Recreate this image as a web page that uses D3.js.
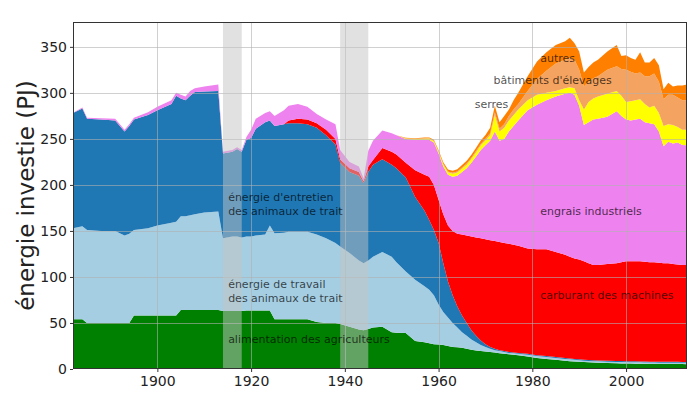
<!DOCTYPE html>
<html>
<head>
<meta charset="utf-8">
<script src="https://cdn.jsdelivr.net/npm/d3@7"></script>
<style>
  body { margin: 0; background: #fff; }
  text { font-family: "DejaVu Sans", sans-serif; }
</style>
</head>
<body>
<div id="chart"></div>
<script>
// years shared by every series
const years = [1882,1884,1885,1888,1891,1893,1894,1895,1898,1900,1903,1904,1905,1906,1907,1908,1910,1913,
  1914,1916,1917,1918,1919,1920,1921,1923,1924,1925,1927,1928,1930,1932,1934,1936,1938,
  1939,1941,1943,1944,1945,1946,1948,1950,1951,1953,1955,1957,1958,1959,1960,1961,1962,1963,1964,1965,
  1966,1967,1968,1969,1970,1971,1972,1973,1974,1975,1976,1977,1979,1981,1983,1985,1987,1988,1989,1990,
  1991,1992,1993,1994,1996,1998,1999,2000,2001,2002,2003,2004,2005,2006,2007,2008,2009,2010,2011,2012,2013];

const alimentation = [54,54,50,50,50,50,50,58,58,58,58,58,64,64,64,64,64,64,
  63,63,63,63,63.5,63.5,63.5,63.5,63.5,54,54,54,54,54,51,50,50,
  49,46,43,42,43.5,45,46,40,39.5,39,30.5,29,28,27,26.5,26,25,24,23.5,23,
  22,21,20,19.5,19,18.5,18,17,16.5,16,15.5,15,13.5,12,11,10,9,8.5,8.2,8,
  7.5,7.2,7,6.8,6.5,6.2,6.1,6,5.9,5.8,5.7,5.6,5.5,5.5,5.4,5.4,5.3,5.3,5.3,5.3,5.2];

const travail = [99,101,101,100,100,95,97,93,95,98,101,102,102,102,103,104,106,107,
  79,81,81,80,80.5,80.5,81.5,82.5,92.5,93.5,94,95,95,95,95,92,87,
  84,80,75,73,74.5,77,81,82,76.5,67,66.5,61,58,53,43.5,36,31,26,21.5,17,
  14,11,9,6.5,5,3.5,2.5,2.5,2,1.5,1.5,1.5,2,2,2,2,2,2,1.8,1.5,
  1.5,1.6,1.5,1.5,1.5,1.5,1.5,1.5,1.5,1.5,1.5,1.5,1.5,1.5,1.5,1.5,1.5,1.5,1.5,1.5,1.5];

const entretien = [125,128,121,121,120,113,117,120,123,125,129,137,128,126,130,133,131.5,131,
  92,92,95,93,105,107,116,122,114,116.5,118,118,118,117,116,112,107,
  91,88,92,87,96,100,101,100,102,102,90,82,76,71,67,53,39,30,23,18,
  14,10,7,5,3,2,1.5,1,1,1,1,1,1,1,1,1,1,1,1,1,
  1,1,1,1,1,1,1,1,1,1,1,1,1,1,1,1,1,1,1,0.9,0.9];

const carburant = [0,0,0,0,0,0,0,0,0,0,0,0,0,0,0,0,0,0,
  0,0,0,0,0,0,0,0,0,0,0,3,5,5,5,6,6,
  4,4,4,2,6,5,12,14,15,16,29,39,47,49,47,53,61,70,79,88,
  95,102,107,111,114,116,117,117.5,117.5,117.5,117,116.5,114.5,115,116,114,112,110.5,109,108.5,
  107,105.2,103.5,103.7,105,106.3,107.4,108.5,108.6,108.7,108.8,108.4,108,108,107.6,107.1,107.2,106.2,105.7,105.3,105.4];

const engrais = [0.5,1,1,1.5,2,2,2,2,3,4,4,3,4,4,5,4,5.5,7,
  2,2,2,2,3,9,11,10,10,11,15,16,16,14,10,11,16,
  10,7,6,3,17,21,19,20,21,26,33,38,40,46,50,52,55,59,63,68,
  73,80,88,96,102,108,119,110,113,122,129,136,150,157,162,169,175,178,178,167,
  148,153,158,159,160,165,159,154,153,154,155,151.5,151,150,142.5,127,132,131,132.5,130.5,130];

const serres = [0,0,0,0,0,0,0,0,0,0,0,0,0,0,0,0,0,0,
  0,0,0,0,0,0,0,0,0,0,0,0,0,0,0,0,0,
  0,0,0,0,0,0,0,0,0,0.5,0.8,1.2,1.3,1.5,1.8,2.2,2.8,3.2,3.5,3.8,
  4,4.3,4.6,5,5.5,6,18,10,12,12,12,12,11,11,8,6,6,6,7,6,
  17,22,23,24,25,22,22,19,21,21,21,20,17,20,20,22,19,20,17,16.5,17];

const batiments = [0,0,0,0,0,0,0,0,0,0,0,0,0,0,0,0,0,0,
  0,0,0,0,0,0,0,0,0,0,0,0,0,0,0,0,0,
  0,0,0,0,0,0,0,0,0,0.3,0.4,0.5,0.5,0.6,0.7,0.8,0.9,1,1,1.1,
  1.2,1.3,1.4,1.5,1.7,2,3,3,4,5,6,6,10,17,24,30,31,32,31,33,
  25,22,22,22,26,27,29,35,32,29,29,30,34,35,34,29,32,33,32,32,32];

const autres = [0,0,0,0,0,0,0,0,0,0,0,0,0,0,0,0,0,0,
  0,0,0,0,0,0,0,0,0,0,0,0,0,0,0,0,0,
  0,0,0,0,0,0,0,0,0,0.5,0.6,0.8,0.8,1,1.2,1.5,2,2.3,2.5,2.7,
  3,3.2,3.5,3.8,4,6,7,7,9,7,10,12,16,19,20,20,20,22,18,20,
  15,16,17,18,20,23,14,16,15,15,22,15,15,17,18,11,13,9,13,16,17];

const keys = ["alimentation","travail","entretien","carburant","engrais","serres","batiments","autres"];
const colors = ["#008000","#a6cee3","#1f77b4","#ff0000","#ee82ee","#ffff00","#f4a460","#ff8000"];
const series = {alimentation, travail, entretien, carburant, engrais, serres, batiments, autres};

const wars = [[1914,1918],[1939,1945]];
const yTicks = [0,50,100,150,200,250,300,350];
const xTicks = [1900,1920,1940,1960,1980,2000];

const labels = [
  {lines:["énergie d'entretien","des animaux de trait"], year:1915.1, v:183},
  {lines:["énergie de travail","des animaux de trait"], year:1915.1, v:88},
  {lines:["alimentation des agriculteurs"], year:1915.1, v:28},
  {lines:["carburant des machines"], year:1981.7, v:76},
  {lines:["engrais industriels"], year:1981.7, v:167},
  {lines:["serres"], year:1967.7, v:284},
  {lines:["bâtiments d'élevages"], year:1971.7, v:310},
  {lines:["autres"], year:1981.7, v:334}
];

const width = 700, height = 394;
const m = {left:73, right:687, top:22, bottom:369};

const rows = years.map((yr,i) => {
  const r = {year:yr};
  keys.forEach(k => r[k] = series[k][i]);
  return r;
});

const x = d3.scaleLinear().domain([1882, 2013]).range([m.left, m.right]);
const y = d3.scaleLinear().domain([0, 377]).range([m.bottom, m.top]);

const svg = d3.select("#chart").append("svg")
  .attr("width", width).attr("height", height);

const stacked = d3.stack().keys(keys)(rows);
const area = d3.area()
  .x(d => x(d.data.year))
  .y0(d => y(d[0]))
  .y1(d => y(d[1]));

svg.append("g").selectAll("path")
  .data(stacked).enter().append("path")
  .attr("d", area)
  .attr("fill", (d,i) => colors[i]);

// grid on top of the areas
const grid = svg.append("g").attr("stroke", "#b0b0b0").attr("stroke-opacity", 0.6).attr("stroke-width", 1);
grid.selectAll(".gy").data(yTicks.slice(1)).enter().append("line")
  .attr("x1", m.left).attr("x2", m.right)
  .attr("y1", d => Math.round(y(d)) + 0.5).attr("y2", d => Math.round(y(d)) + 0.5);
grid.selectAll(".gx").data(xTicks).enter().append("line")
  .attr("y1", m.top).attr("y2", m.bottom)
  .attr("x1", d => Math.round(x(d)) + 0.5).attr("x2", d => Math.round(x(d)) + 0.5);

// war bands
svg.append("g").selectAll("rect")
  .data(wars).enter().append("rect")
  .attr("x", d => x(d[0])).attr("width", d => x(d[1]) - x(d[0]))
  .attr("y", m.top).attr("height", m.bottom - m.top)
  .attr("fill", "#c4c4c4").attr("fill-opacity", 0.5);

// axes
const xAxis = svg.append("g").attr("transform", `translate(0,${m.bottom})`)
  .call(d3.axisBottom(x).tickValues(xTicks).tickFormat(d3.format("d")).tickSize(3).tickPadding(4));
const yAxis = svg.append("g").attr("transform", `translate(${m.left},0)`)
  .call(d3.axisLeft(y).tickValues(yTicks).tickSize(3).tickPadding(3));
[xAxis, yAxis].forEach(a => {
  a.select(".domain").remove();
  a.selectAll("text").attr("font-size", 14).attr("fill", "#222").style("font-family", "DejaVu Sans");
  a.selectAll("line").attr("stroke", "#333");
});

svg.append("rect")
  .attr("x", m.left + 0.5).attr("y", m.top + 0.5)
  .attr("width", m.right - m.left - 1).attr("height", m.bottom - m.top - 1)
  .attr("fill", "none").attr("stroke", "#333").attr("stroke-width", 1);

svg.append("text")
  .attr("transform", `translate(34,${(m.top + m.bottom) / 2}) rotate(-90)`)
  .attr("text-anchor", "middle")
  .attr("font-size", 23).attr("fill", "#222")
  .text("énergie investie (PJ)");

// in-chart labels
const lab = svg.append("g").attr("font-size", 11).attr("fill", "#000").attr("fill-opacity", 0.7);
labels.forEach(l => {
  const t = lab.append("text").attr("x", x(l.year)).attr("y", y(l.v));
  l.lines.forEach((s,i) => t.append("tspan").attr("x", x(l.year)).attr("dy", i ? 14 : 0).text(s));
});
</script>
</body>
</html>
